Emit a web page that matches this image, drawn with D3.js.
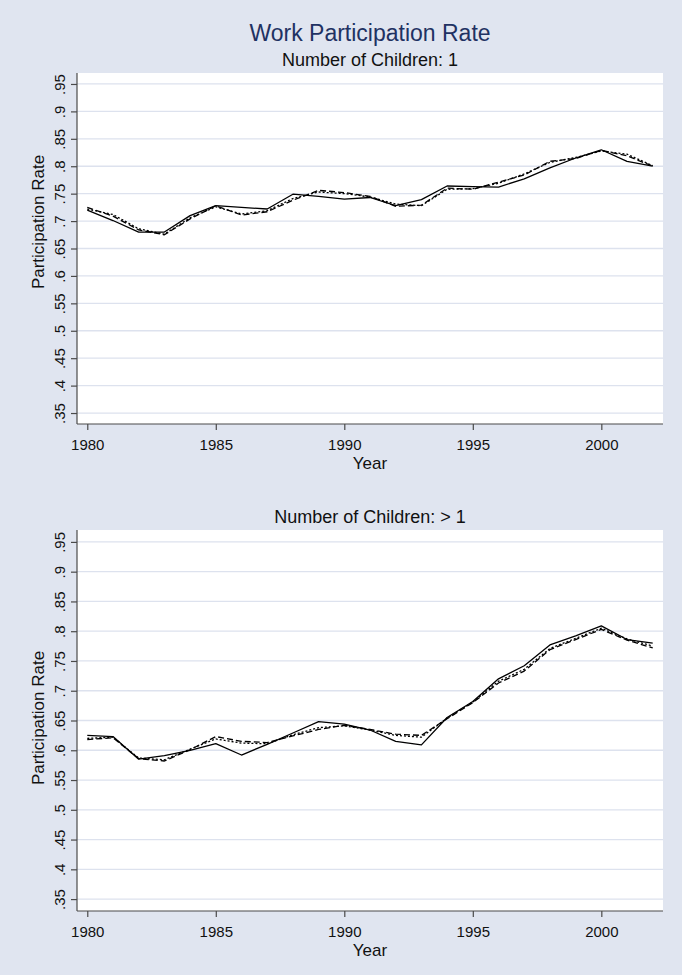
<!DOCTYPE html>
<html>
<head>
<meta charset="utf-8">
<script src="https://cdn.jsdelivr.net/npm/d3@7"></script>
<style>
  html, body { margin: 0; padding: 0; background: #e0e5f0; }
  svg { display: block; font-family: "Liberation Sans", Arial, Helvetica, sans-serif; }
</style>
</head>
<body>
<svg id="chart" width="682" height="975"></svg>
<script>
// ---- data ----
const years = [1980, 1981, 1982, 1983, 1984, 1985, 1986, 1987, 1988, 1989, 1990, 1991,
               1992, 1993, 1994, 1995, 1996, 1997, 1998, 1999, 2000, 2001, 2002];

const xTicks = [1980, 1985, 1990, 1995, 2000];
const yTicks = [0.35, 0.4, 0.45, 0.5, 0.55, 0.6, 0.65, 0.7, 0.75, 0.8, 0.85, 0.9, 0.95];
const yTickLabels = [".35", ".4", ".45", ".5", ".55", ".6", ".65", ".7", ".75", ".8", ".85", ".9", ".95"];

const chartTitle = "Work Participation Rate";
const panelTitles = ["Number of Children: 1", "Number of Children: > 1"];
const xTitle = "Year";
const yTitle = "Participation Rate";

// one child
const oneChildSolid = [0.720, 0.701, 0.680, 0.680, 0.710, 0.728, 0.725, 0.722, 0.749, 0.745, 0.740, 0.743,
                       0.728, 0.739, 0.764, 0.763, 0.762, 0.777, 0.797, 0.815, 0.830, 0.809, 0.800];
const oneChildDash = [0.725, 0.709, 0.684, 0.675, 0.704, 0.728, 0.711, 0.717, 0.738, 0.756, 0.752, 0.745,
                      0.727, 0.729, 0.760, 0.758, 0.771, 0.784, 0.809, 0.814, 0.829, 0.819, 0.800];
const oneChildShort = [0.722, 0.712, 0.686, 0.676, 0.706, 0.726, 0.713, 0.719, 0.741, 0.753, 0.750, 0.744,
                       0.731, 0.728, 0.758, 0.759, 0.769, 0.786, 0.807, 0.816, 0.828, 0.822, 0.801];

// more than one child
const manyChildSolid = [0.625, 0.623, 0.585, 0.591, 0.600, 0.611, 0.592, 0.610, 0.629, 0.648, 0.644, 0.634,
                        0.615, 0.609, 0.655, 0.682, 0.720, 0.742, 0.777, 0.792, 0.809, 0.786, 0.780];
const manyChildDash = [0.618, 0.621, 0.586, 0.582, 0.601, 0.623, 0.615, 0.613, 0.624, 0.635, 0.642, 0.635,
                       0.627, 0.625, 0.653, 0.680, 0.713, 0.733, 0.769, 0.786, 0.803, 0.785, 0.772];
const manyChildShort = [0.620, 0.622, 0.587, 0.584, 0.602, 0.619, 0.612, 0.611, 0.626, 0.638, 0.641, 0.634,
                        0.625, 0.622, 0.654, 0.681, 0.716, 0.736, 0.771, 0.788, 0.805, 0.787, 0.775];

// ---- layout ----
const W = 682;
const plotLeft = 77, plotRight = 663;
const panels = [
  { title: panelTitles[0], top: 73, bottom: 424, yTitleMid: 222,
    series: [oneChildSolid, oneChildDash, oneChildShort] },
  { title: panelTitles[1], top: 530, bottom: 911, yTitleMid: 718,
    series: [manyChildSolid, manyChildDash, manyChildShort] }
];
const dashes = [null, "6,3", "2,2"];

const svg = d3.select("#chart");
svg.append("rect").attr("width", W).attr("height", 975).attr("fill", "#e0e5f0");

svg.append("text")
  .attr("x", (plotLeft + plotRight) / 2).attr("y", 41)
  .attr("text-anchor", "middle")
  .attr("font-size", 23).attr("fill", "#1f3263")
  .text(chartTitle);

const x = d3.scaleLinear().domain([1979.6, 2002.4]).range([plotLeft, plotRight]);

panels.forEach(p => {
  const y = d3.scaleLinear().domain([0.33, 0.97]).range([p.bottom, p.top]);
  const g = svg.append("g");

  g.append("text")
    .attr("x", (plotLeft + plotRight) / 2).attr("y", p.top - 7)
    .attr("text-anchor", "middle").attr("font-size", 18).attr("fill", "#111")
    .text(p.title);

  g.append("rect")
    .attr("x", plotLeft).attr("y", p.top)
    .attr("width", plotRight - plotLeft).attr("height", p.bottom - p.top)
    .attr("fill", "#fff");

  // horizontal grid
  g.append("g").selectAll("line").data(yTicks).join("line")
    .attr("x1", plotLeft).attr("x2", plotRight)
    .attr("y1", d => y(d)).attr("y2", d => y(d))
    .attr("stroke", "#dde2ee").attr("stroke-width", 1.3);

  // series lines
  const line = d3.line().x((d, i) => x(years[i])).y(d => y(d));
  p.series.forEach((s, k) => {
    g.append("path").datum(s)
      .attr("d", line)
      .attr("fill", "none").attr("stroke", "#000")
      .attr("stroke-width", 1.3)
      .attr("stroke-linejoin", "round")
      .attr("stroke-dasharray", dashes[k]);
  });

  // y axis
  const ya = g.append("g").attr("transform", `translate(${plotLeft},0)`)
    .call(d3.axisLeft(y).tickValues(yTicks).tickSize(6).tickSizeOuter(0)
      .tickFormat((d, i) => yTickLabels[i]));
  ya.select(".domain").attr("d", `M0,${p.top}V${p.bottom}`);
  ya.selectAll("text")
    .attr("x", 0).attr("dy", null).attr("y", -12)
    .attr("transform", "rotate(-90)").attr("text-anchor", "middle")
    .attr("font-size", 15).attr("fill", "#111");

  // x axis
  const xa = g.append("g").attr("transform", `translate(0,${p.bottom})`)
    .call(d3.axisBottom(x).tickValues(xTicks).tickSize(6).tickSizeOuter(0).tickFormat(d3.format("d")));
  xa.select(".domain").attr("d", `M${plotLeft},0H${plotRight}`);
  xa.selectAll("text").attr("dy", null).attr("y", 26).attr("font-size", 15).attr("fill", "#111");

  [ya, xa].forEach(a => {
    a.attr("font-family", null);
    a.selectAll(".domain").attr("stroke", "#4a4a4a").attr("stroke-width", 1.2);
    a.selectAll(".tick line").attr("stroke", "#4a4a4a").attr("stroke-width", 1.2);
  });

  g.append("text")
    .attr("x", (plotLeft + plotRight) / 2).attr("y", p.bottom + 45)
    .attr("text-anchor", "middle").attr("font-size", 17).attr("fill", "#111")
    .text(xTitle);

  g.append("text")
    .attr("transform", `translate(44,${p.yTitleMid}) rotate(-90)`)
    .attr("text-anchor", "middle").attr("font-size", 17).attr("fill", "#111")
    .text(yTitle);
});
</script>
</body>
</html>
